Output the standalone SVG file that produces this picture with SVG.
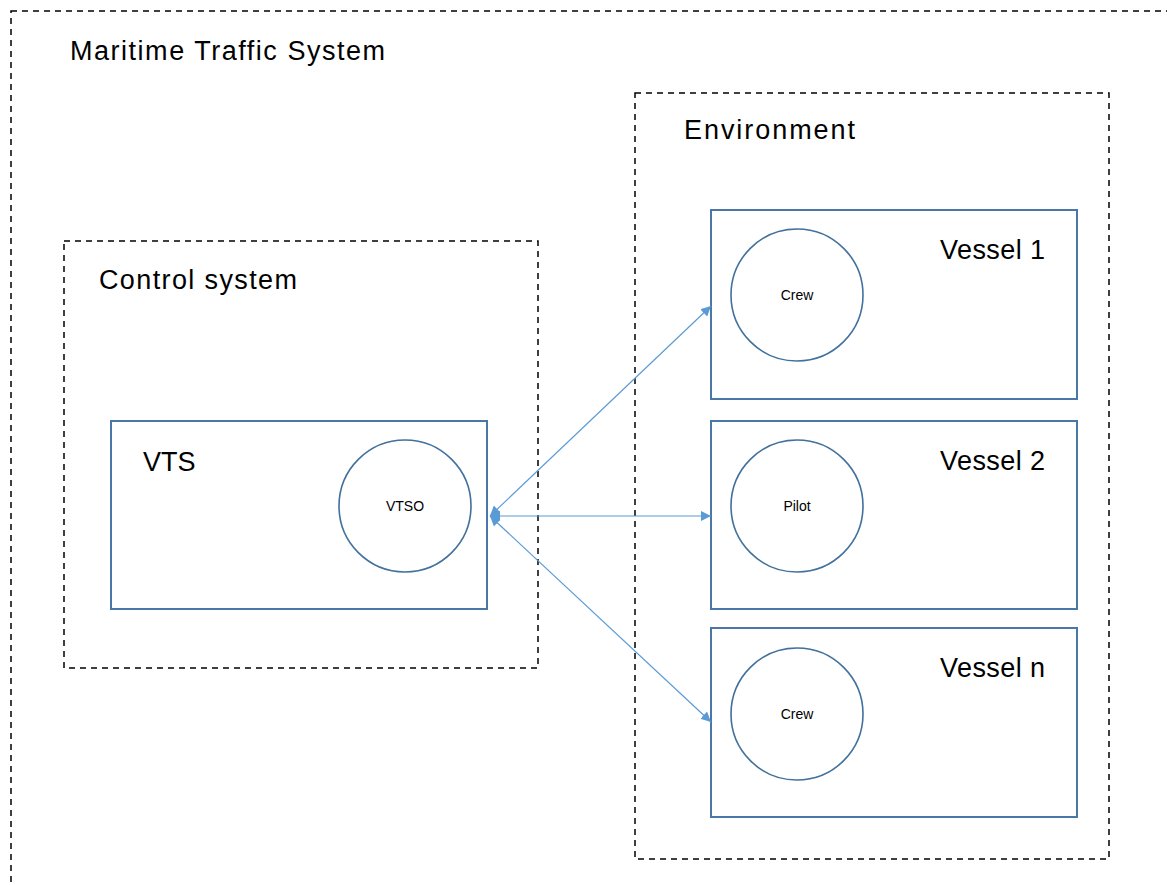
<svg xmlns="http://www.w3.org/2000/svg" width="1167" height="885" viewBox="0 0 1167 885">
<style>
.dash{fill:none;stroke:#000;stroke-width:1.5;stroke-dasharray:6,5}
.box{fill:#fff;stroke:#4a76a8;stroke-width:2}
.circ{fill:#fff;stroke:#41719c;stroke-width:1.6}
.big{font-family:"Liberation Sans",Arial,sans-serif;font-size:27px;fill:#000}
.small{font-family:"Liberation Sans",Arial,sans-serif;font-size:14px;fill:#000;text-anchor:middle}
.conn{fill:none;stroke:#5b9bd5;stroke-width:1.2}
</style>
<defs>
<marker id="ah" viewBox="0 0 10 10" refX="10" refY="5" markerWidth="10" markerHeight="10" markerUnits="userSpaceOnUse" orient="auto-start-reverse">
<path d="M0,0 L10,5 L0,10 z" fill="#5b9bd5"/>
</marker>
</defs>
<rect width="1167" height="885" fill="#fff"/>
<g id="maritime">
<rect class="dash" x="11" y="11" width="1180" height="900"/>
<text class="big" x="70" y="60" textLength="315" lengthAdjust="spacing">Maritime Traffic System</text>
</g>
<g id="control">
<rect class="dash" x="64" y="241" width="474" height="427"/>
<text class="big" x="99" y="289" textLength="198" lengthAdjust="spacing">Control system</text>
</g>
<g id="environment">
<rect class="dash" x="635" y="93" width="474" height="766"/>
<text class="big" x="684" y="139" textLength="171" lengthAdjust="spacing">Environment</text>
</g>
<g id="vts">
<rect class="box" x="111" y="421" width="376" height="188"/>
<text class="big" x="143" y="471">VTS</text>
<circle class="circ" cx="405" cy="506" r="66"/>
<text class="small" x="405" y="511">VTSO</text>
</g>
<g id="vessel1">
<rect class="box" x="711" y="210" width="366" height="189"/>
<text class="big" x="940" y="259" textLength="105" lengthAdjust="spacing">Vessel 1</text>
<circle class="circ" cx="797" cy="295" r="66"/>
<text class="small" x="797" y="300">Crew</text>
</g>
<g id="vessel2">
<rect class="box" x="711" y="421" width="366" height="188"/>
<text class="big" x="940" y="470" textLength="105" lengthAdjust="spacing">Vessel 2</text>
<circle class="circ" cx="797" cy="506" r="66"/>
<text class="small" x="797" y="511">Pilot</text>
</g>
<g id="vesseln">
<rect class="box" x="711" y="628" width="366" height="189"/>
<text class="big" x="940" y="677" textLength="105" lengthAdjust="spacing">Vessel n</text>
<circle class="circ" cx="797" cy="714" r="66"/>
<text class="small" x="797" y="719">Crew</text>
</g>
<g id="connectors">
<line class="conn" x1="490" y1="516" x2="711" y2="306" marker-start="url(#ah)" marker-end="url(#ah)"/>
<line class="conn" x1="490" y1="516" x2="711" y2="516" marker-start="url(#ah)" marker-end="url(#ah)"/>
<line class="conn" x1="490" y1="516" x2="711" y2="722" marker-start="url(#ah)" marker-end="url(#ah)"/>
</g>
</svg>
